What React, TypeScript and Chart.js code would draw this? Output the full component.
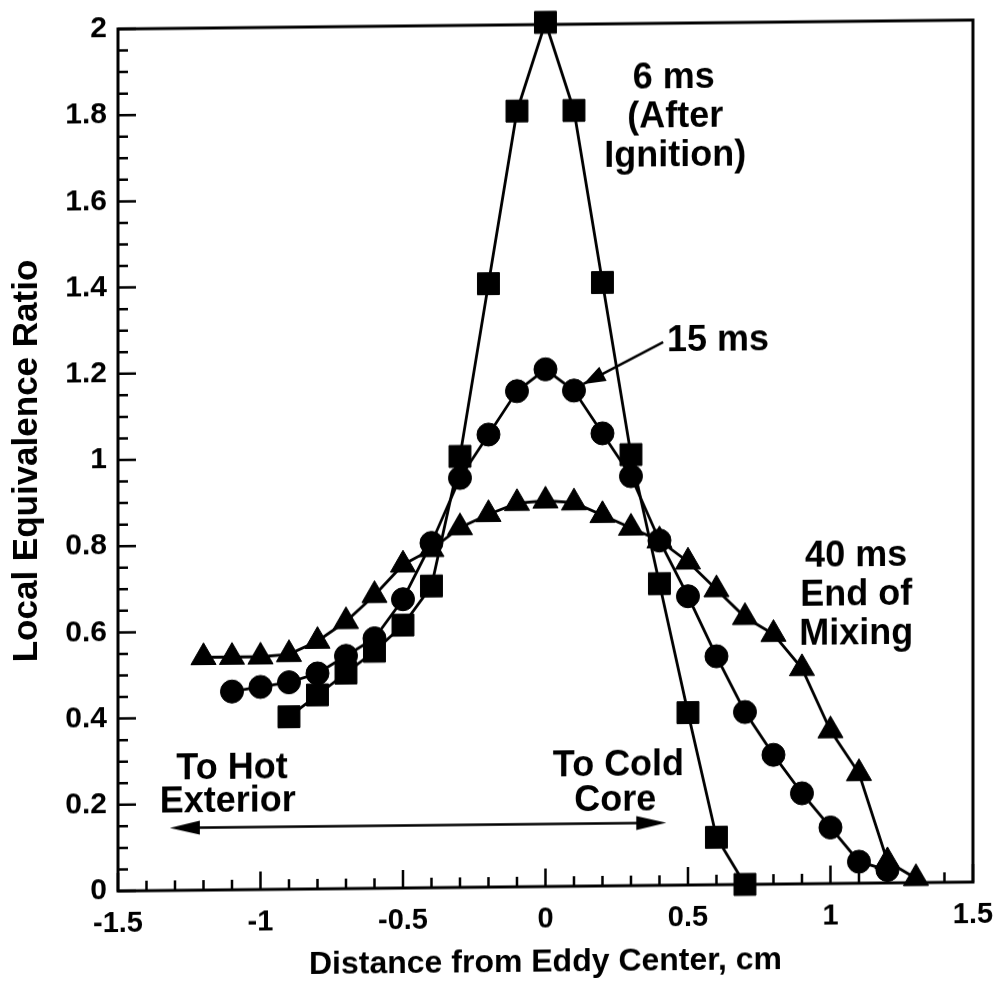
import { useEffect, useRef } from 'react';
import { Chart, registerables } from 'chart.js';

Chart.register(...registerables);

// ---- data ----
const xPositions6ms = [-0.9, -0.8, -0.7, -0.6, -0.5, -0.4, -0.3, -0.2, -0.1, 0, 0.1, 0.2, 0.3, 0.4, 0.5, 0.6, 0.7];
const phi6ms = [0.40, 0.45, 0.50, 0.55, 0.61, 0.70, 1.00, 1.40, 1.80, 2.005, 1.80, 1.40, 1.00, 0.70, 0.40, 0.11, 0.0];

const xPositions15ms = [-1.1, -1.0, -0.9, -0.8, -0.7, -0.6, -0.5, -0.4, -0.3, -0.2, -0.1, 0, 0.1, 0.2, 0.3, 0.4, 0.5, 0.6, 0.7, 0.8, 0.9, 1.0, 1.1, 1.2];
const phi15ms = [0.46, 0.47, 0.48, 0.50, 0.54, 0.58, 0.67, 0.80, 0.95, 1.05, 1.15, 1.20, 1.15, 1.05, 0.95, 0.80, 0.67, 0.53, 0.40, 0.30, 0.21, 0.13, 0.05, 0.03];

const xPositions40ms = [-1.2, -1.1, -1.0, -0.9, -0.8, -0.7, -0.6, -0.5, -0.4, -0.3, -0.2, -0.1, 0, 0.1, 0.2, 0.3, 0.4, 0.5, 0.6, 0.7, 0.8, 0.9, 1.0, 1.1, 1.2, 1.3];
const phi40ms = [0.54, 0.54, 0.54, 0.545, 0.575, 0.62, 0.68, 0.75, 0.785, 0.835, 0.865, 0.89, 0.895, 0.89, 0.86, 0.83, 0.80, 0.75, 0.685, 0.62, 0.58, 0.50, 0.355, 0.255, 0.05, 0.01];

const xTickLabels = ['-1.5', '-1', '-0.5', '0', '0.5', '1', '1.5'];
const yTickLabels = ['0', '0.2', '0.4', '0.6', '0.8', '1', '1.2', '1.4', '1.6', '1.8', '2'];

const xTitle = 'Distance from Eddy Center, cm';
const yTitle = 'Local Equivalence Ratio';

const FONT = '"Liberation Sans", Arial, Helvetica, sans-serif';

function toPoints(xs: number[], ys: number[]) {
  return xs.map((x, i) => ({ x, y: ys[i] }));
}

const frameAndNotes = {
  id: 'frameAndNotes',
  afterDraw(chart: any) {
    const { ctx, chartArea, scales } = chart;
    const { left, right, top, bottom } = chartArea;
    const xs = scales.x;
    const ys = scales.y;
    const X = (v: number) => xs.getPixelForValue(v);
    const Y = (v: number) => ys.getPixelForValue(v);
    ctx.save();
    ctx.strokeStyle = '#000';
    ctx.fillStyle = '#000';
    // frame
    ctx.lineWidth = 3;
    ctx.strokeRect(left, top, right - left, bottom - top);
    // inward ticks
    ctx.lineWidth = 2.5;
    ctx.beginPath();
    for (let i = 0; i <= 30; i++) {
      const px = X(-1.5 + i * 0.1);
      const len = i % 5 === 0 ? 18 : 10;
      ctx.moveTo(px, bottom);
      ctx.lineTo(px, bottom - len);
    }
    for (let i = 0; i <= 40; i++) {
      const py = Y(i * 0.05);
      const len = i % 4 === 0 ? 18 : 10;
      ctx.moveTo(left, py);
      ctx.lineTo(left + len, py);
    }
    ctx.stroke();

    // annotation text
    ctx.font = `bold 36px ${FONT}`;
    ctx.textAlign = 'center';
    ctx.textBaseline = 'middle';
    const txt = (s: string, x: number, y: number) => ctx.fillText(s, X(x), Y(y));
    txt('6 ms', 0.45, 1.872);
    txt('(After', 0.455, 1.782);
    txt('Ignition)', 0.455, 1.692);
    txt('15 ms', 0.605, 1.263);
    txt('40 ms', 1.09, 0.758);
    txt('End of', 1.09, 0.668);
    txt('Mixing', 1.09, 0.578);
    txt('To Hot', -1.1, 0.281);
    txt('Exterior', -1.115, 0.203);
    txt('To Cold', 0.256, 0.279);
    txt('Core', 0.245, 0.196);

    const arrowHead = (x1: number, y1: number, x2: number, y2: number, len: number, half: number) => {
      const a = Math.atan2(y2 - y1, x2 - x1);
      const bx = x2 - len * Math.cos(a);
      const by = y2 - len * Math.sin(a);
      ctx.beginPath();
      ctx.moveTo(x2, y2);
      ctx.lineTo(bx + half * Math.sin(a), by - half * Math.cos(a));
      ctx.lineTo(bx - half * Math.sin(a), by + half * Math.cos(a));
      ctx.closePath();
      ctx.fill();
    };

    // 15 ms pointer
    const ax1 = X(0.413), ay1 = Y(1.26), ax2 = X(0.133), ay2 = Y(1.165);
    ctx.lineWidth = 2.5;
    ctx.beginPath();
    ctx.moveTo(ax1, ay1);
    ctx.lineTo(ax2, ay2);
    ctx.stroke();
    arrowHead(ax1, ay1, ax2, ay2, 22, 8);

    // double arrow
    const dx1 = X(-1.318), dx2 = X(0.424), dy = Y(0.145);
    ctx.beginPath();
    ctx.moveTo(dx1 + 10, dy);
    ctx.lineTo(dx2 - 10, dy);
    ctx.stroke();
    arrowHead(dx2, dy, dx1, dy, 30, 7);
    arrowHead(dx1, dy, dx2, dy, 30, 7);
    ctx.restore();
  },
};

export default function App() {
  const canvasRef = useRef<HTMLCanvasElement | null>(null);

  useEffect(() => {
    const canvas = canvasRef.current;
    if (!canvas) return;
    const common = {
      showLine: true,
      borderColor: '#000',
      backgroundColor: '#000',
      borderWidth: 2.8,
      pointBackgroundColor: '#000',
      pointBorderColor: '#000',
      pointBorderWidth: 1,
      clip: false as any,
      tension: 0,
    };
    const chart = new Chart(canvas, {
      type: 'line',
      data: {
        datasets: [
          { ...common, label: '6 ms', data: toPoints(xPositions6ms, phi6ms), pointStyle: 'rect', pointRadius: 15.5 },
          { ...common, label: '15 ms', data: toPoints(xPositions15ms, phi15ms), pointStyle: 'circle', pointRadius: 11.5 },
          { ...common, label: '40 ms', data: toPoints(xPositions40ms, phi40ms), pointStyle: 'triangle', pointRadius: 14.5 },
        ],
      },
      options: {
        animation: false,
        responsive: false,
        devicePixelRatio: 1,
        layout: { padding: { top: 25, right: 30, left: 0, bottom: 0 } },
        plugins: { legend: { display: false }, tooltip: { enabled: false } },
        scales: {
          x: {
            type: 'linear',
            min: -1.5,
            max: 1.5,
            afterFit: (s: any) => { s.height = 93; },
            grid: { display: false, drawTicks: true, tickLength: 7 },
            border: { display: false },
            ticks: {
              stepSize: 0.5,
              autoSkip: false,
              maxRotation: 0,
              padding: 9,
              color: '#000',
              font: { family: FONT, weight: 'bold', size: 29 },
              callback: (_v: any, i: number) => xTickLabels[i],
            },
            title: {
              display: true,
              text: xTitle,
              color: '#000',
              font: { family: FONT, weight: 'bold', size: 32, lineHeight: 1 },
              padding: { top: 0, bottom: 1 },
            },
          },
          y: {
            type: 'linear',
            min: 0,
            max: 2,
            afterFit: (s: any) => { s.width = 118; },
            grid: { display: false, drawTicks: false },
            border: { display: false },
            ticks: {
              stepSize: 0.2,
              autoSkip: false,
              padding: 11,
              color: '#000',
              font: { family: FONT, weight: 'bold', size: 30 },
              callback: (_v: any, i: number) => yTickLabels[i],
            },
            title: {
              display: true,
              text: yTitle,
              color: '#000',
              font: { family: FONT, weight: 'bold', size: 35, lineHeight: 1 },
              padding: { top: 10, bottom: 0 },
            },
          },
        },
      },
      plugins: [frameAndNotes],
    } as any);
    return () => chart.destroy();
  }, []);

  return (
    <div style={{ position: 'absolute', left: 0, top: 0, width: 1003, height: 984, background: '#fff', overflow: 'hidden' }}>
      <canvas
        ref={canvasRef}
        width={1003}
        height={984}
        style={{ display: 'block', transform: 'skewY(-0.6deg)', transformOrigin: '118px 891px' }}
      />
    </div>
  );
}
